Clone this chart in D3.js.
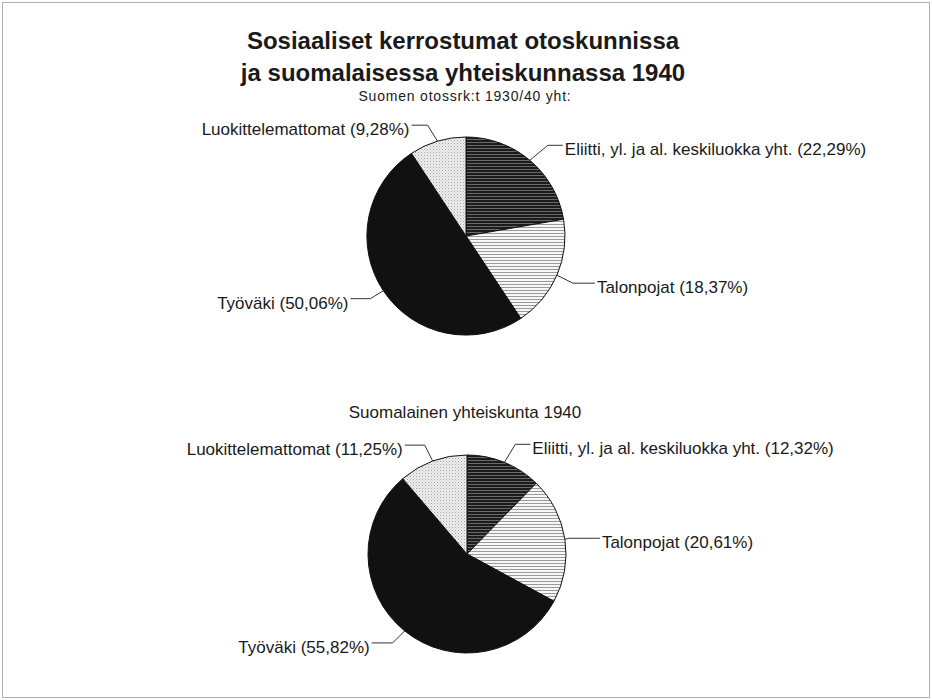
<!DOCTYPE html>
<html>
<head>
<meta charset="utf-8">
<script src="https://cdn.jsdelivr.net/npm/d3@7"></script>
<style>
  body { margin: 0; background: #fff; }
  text { font-family: "Liberation Sans", Arial, Helvetica, sans-serif; fill: #1a1a1a; }
</style>
</head>
<body>
<div id="chart"></div>
<script>
// data
var categories = ["Eliitti, yl. ja al. keskiluokka yht.", "Talonpojat", "Työväki", "Luokittelemattomat"];
var otosValues = [22.29, 18.37, 50.06, 9.28];
var yhteiskuntaValues = [12.32, 20.61, 55.82, 11.25];
var titleLines = ["Sosiaaliset kerrostumat otoskunnissa", "ja suomalaisessa yhteiskunnassa 1940"];
var pieTitles = ["Suomen otossrk:t 1930/40 yht:", "Suomalainen yhteiskunta 1940"];

var width = 932, height = 700;
var radius = 99;

var svg = d3.select("#chart")
  .append("svg")
  .attr("width", width)
  .attr("height", height);

// fill patterns (scanned b/w print look)
var defs = svg.append("defs");

var p1 = defs.append("pattern").attr("id", "pat0")
  .attr("width", 4).attr("height", 3).attr("patternUnits", "userSpaceOnUse");
p1.append("rect").attr("width", 4).attr("height", 3).attr("fill", "#6a6a6a");
p1.append("rect").attr("width", 4).attr("height", 2).attr("fill", "#1c1c1c");

var p2 = defs.append("pattern").attr("id", "pat1")
  .attr("width", 4).attr("height", 3).attr("patternUnits", "userSpaceOnUse");
p2.append("rect").attr("width", 4).attr("height", 3).attr("fill", "#f6f6f6");
p2.append("rect").attr("width", 4).attr("height", 1).attr("fill", "#9a9a9a");

var p4 = defs.append("pattern").attr("id", "pat3")
  .attr("width", 3).attr("height", 3).attr("patternUnits", "userSpaceOnUse");
p4.append("rect").attr("width", 3).attr("height", 3).attr("fill", "#eeeeee");
p4.append("rect").attr("width", 1).attr("height", 1).attr("fill", "#a4a4a4");
p4.append("rect").attr("x", 1.5).attr("y", 1.5).attr("width", 1).attr("height", 1).attr("fill", "#c0c0c0");

var fills = ["url(#pat0)", "url(#pat1)", "#111", "url(#pat3)"];

// page frame
svg.append("rect")
  .attr("x", 2.5).attr("y", 2.5)
  .attr("width", width - 5).attr("height", height - 5)
  .attr("fill", "none")
  .attr("stroke", "#b0b0b0");

// title
svg.selectAll(".title")
  .data(titleLines)
  .enter()
  .append("text")
  .attr("class", "title")
  .attr("x", 463)
  .attr("y", (d, i) => 49 + i * 32)
  .attr("text-anchor", "middle")
  .attr("font-size", "24px")
  .attr("font-weight", "bold")
  .text(d => d);

var fmt = function(v) { return d3.format(".2f")(v).replace(".", ",") + "%"; };

var pie = d3.pie().sort(null).value(d => d);
var arc = d3.arc().innerRadius(0).outerRadius(radius);
var edge = d3.arc().innerRadius(radius).outerRadius(radius);

// label leader layout: elbow offset from slice edge, horizontal run length
var leaderTop = [
  { dx: 18, dy: -15, run: 15 },
  { dx: 16, dy: 8, run: 22 },
  { dx: -13, dy: 8, run: 20 },
  { dx: -10, dy: -16, run: 16 }
];
var leaderBottom = [
  { dx: 11, dy: -18, run: 15 },
  { dx: 4, dy: -1, run: 31 },
  { dx: -12, dy: 12, run: 21 },
  { dx: -8, dy: -16, run: 20 }
];

var pies = [
  { values: otosValues, cx: 466, cy: 236, titleY: 101, titleSize: 14, leaders: leaderTop },
  { values: yhteiskuntaValues, cx: 467, cy: 554, titleY: 418, titleSize: 17, leaders: leaderBottom }
];

pies.forEach(function(p, k) {
  svg.append("text")
    .attr("x", 465)
    .attr("y", p.titleY)
    .attr("text-anchor", "middle")
    .attr("font-size", p.titleSize + "px")
    .attr("letter-spacing", k === 0 ? "0.8px" : "0px")
    .attr("fill", "#333")
    .text(pieTitles[k]);

  var g = svg.append("g")
    .attr("transform", "translate(" + p.cx + "," + p.cy + ")");

  var slices = pie(p.values);

  g.selectAll("path.slice")
    .data(slices)
    .enter()
    .append("path")
    .attr("class", "slice")
    .attr("d", arc)
    .attr("fill", (d, i) => fills[i])
    .attr("stroke", "#111")
    .attr("stroke-width", 1);

  // leader lines + labels
  slices.forEach(function(d, i) {
    var a = edge.centroid(d);
    var L = p.leaders[i];
    var right = L.dx > 0;
    var ex = a[0] + L.dx, ey = a[1] + L.dy;
    var endX = right ? ex + L.run : ex - L.run;

    g.append("path")
      .attr("d", d3.line()([a, [ex, ey], [endX, ey]]))
      .attr("fill", "none")
      .attr("stroke", "#333")
      .attr("stroke-width", 1);

    g.append("text")
      .attr("x", right ? endX + 2 : endX - 2)
      .attr("y", ey + 10)
      .attr("text-anchor", right ? "start" : "end")
      .attr("font-size", "17px")
      .text(categories[i] + " (" + fmt(p.values[i]) + ")");
  });
});
</script>
</body>
</html>
